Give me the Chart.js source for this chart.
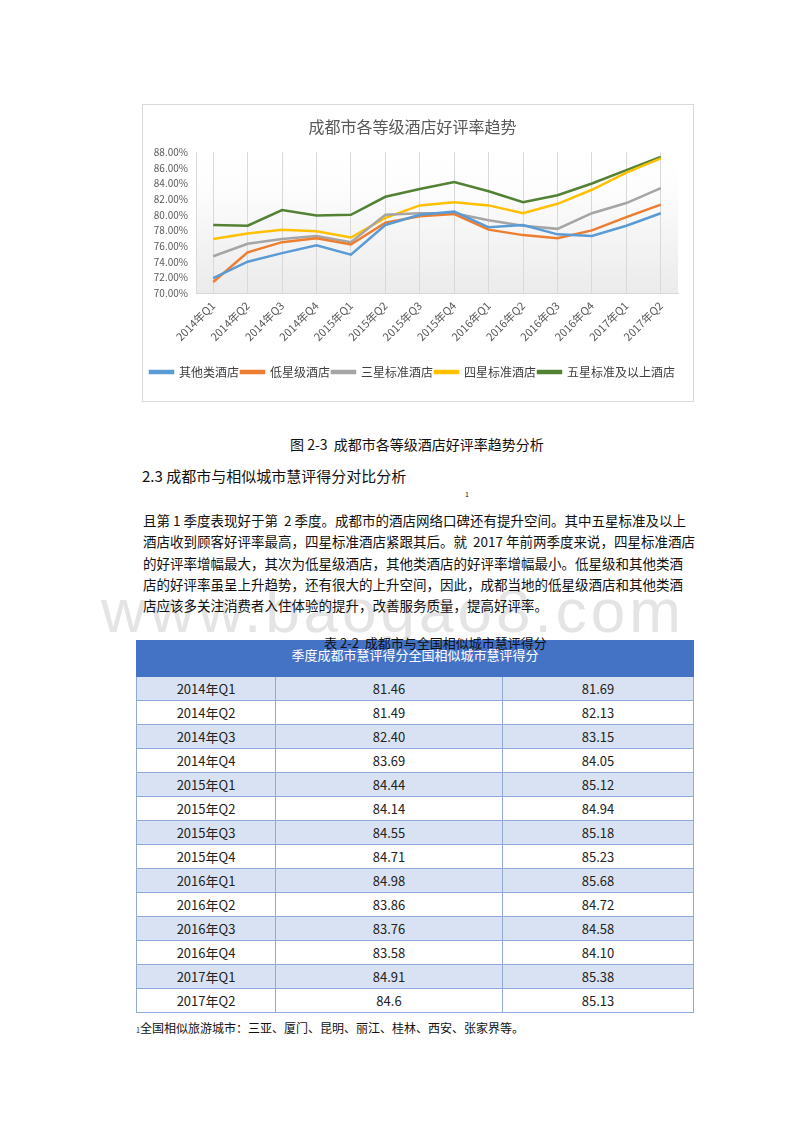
<!DOCTYPE html>
<html>
<head>
<meta charset="utf-8">
<script src="https://cdn.jsdelivr.net/npm/chart.js@4/dist/chart.umd.min.js"></script>
<style>
  body { margin: 0; width: 800px; height: 1130px; background: #fff; position: relative;
         font-family: "Noto Sans CJK SC", "Noto Sans", sans-serif; color: #111; overflow: hidden; }
  .abs { position: absolute; white-space: nowrap; }
  #chartBox { position: absolute; left: 142px; top: 104px; width: 550px; height: 296px; border: 1px solid #d9d9d9; }
  #watermark { position: absolute; left: 101px; top: 580px; font-family: "Liberation Sans", sans-serif;
               font-size: 62px; line-height: 1; color: #e4e4e4; letter-spacing: 4px; }
  .para { font-size: 13.5px; line-height: 21.3px; }
  table { position: absolute; left: 136px; top: 640px; width: 558px; border-collapse: collapse; font-size: 13px; }
  td { border: 1px solid #8eaadb; height: 23px; padding: 0; text-align: center; color: #222; }
  tr.odd td { background: #d9e2f3; }
  th { background: #4472c4; height: 31px; color: #fff; font-weight: normal; font-size: 13px; vertical-align: top;
       padding: 4px 0 0 0; border: 1px solid #4472c4; }
</style>
</head>
<body>
<div id="chartBox"><canvas id="rateChart" width="550" height="296"></canvas></div>

<div class="abs" style="left:290px; top:434px; font-size:14px;">图 2-3&nbsp; 成都市各等级酒店好评率趋势分析</div>
<div class="abs" style="left:142px; top:465px; font-size:15px;">2.3 成都市与相似城市慧评得分对比分析</div>
<div class="abs" style="left:465px; top:489px; font-size:7px;">1</div>

<div id="watermark">www.baogao8.com</div>
<div class="abs para" style="left:143px; top:510px;">
  <div>且第 1 季度表现好于第&nbsp; 2 季度。成都市的酒店网络口碑还有提升空间。其中五星标准及以上</div>
  <div>酒店收到顾客好评率最高，四星标准酒店紧跟其后。就&nbsp; 2017 年前两季度来说，四星标准酒店</div>
  <div>的好评率增幅最大，其次为低星级酒店，其他类酒店的好评率增幅最小。低星级和其他类酒</div>
  <div>店的好评率虽呈上升趋势，还有很大的上升空间，因此，成都当地的低星级酒店和其他类酒</div>
  <div>店应该多关注消费者入住体验的提升，改善服务质量，提高好评率。</div>
</div>

<table id="scoreTable"></table>
<div class="abs" style="left:324px; top:633px; font-size:13px; color:#111;">表 2-2&nbsp; 成都市与全国相似城市慧评得分</div>

<div class="abs" style="left:136px; top:1019px; font-size:12px;"><span style="font-size:7px;">1</span>全国相似旅游城市：三亚、厦门、昆明、丽江、桂林、西安、张家界等。</div>

<script>
const quarters = ['2014年Q1','2014年Q2','2014年Q3','2014年Q4','2015年Q1','2015年Q2','2015年Q3',
                  '2015年Q4','2016年Q1','2016年Q2','2016年Q3','2016年Q4','2017年Q1','2017年Q2'];

// 好评率 (%)
const otherHotels   = [71.9, 74.0, 75.1, 76.1, 74.9, 78.7, 80.0, 80.4, 78.4, 78.7, 77.5, 77.3, 78.6, 80.2];
const lowStar       = [71.4, 75.2, 76.5, 77.0, 76.2, 79.0, 79.8, 80.1, 78.1, 77.4, 77.0, 78.0, 79.7, 81.3];
const threeStar     = [74.7, 76.3, 76.9, 77.3, 76.5, 80.0, 80.2, 80.2, 79.3, 78.6, 78.2, 80.2, 81.5, 83.4];
const fourStar      = [76.9, 77.6, 78.1, 77.9, 77.1, 79.6, 81.2, 81.6, 81.2, 80.2, 81.4, 83.2, 85.4, 87.2];
const fiveStar      = [78.7, 78.6, 80.6, 79.9, 80.0, 82.3, 83.3, 84.2, 83.0, 81.6, 82.5, 84.0, 85.7, 87.4];

// 慧评得分
const chengduScores  = ['81.46','81.49','82.40','83.69','84.44','84.14','84.55','84.71','84.98','83.86','83.76','83.58','84.91','84.6'];
const nationalScores = ['81.69','82.13','83.15','84.05','85.12','84.94','85.18','85.23','85.68','84.72','84.58','84.10','85.38','85.13'];

const seriesNames  = ['其他类酒店', '低星级酒店', '三星标准酒店', '四星标准酒店', '五星标准及以上酒店'];
const seriesColors = ['#5b9bd5', '#ed7d31', '#a5a5a5', '#ffc000', '#548235'];
const seriesData   = [otherHotels, lowStar, threeStar, fourStar, fiveStar];

// table
const table = document.getElementById('scoreTable');
let html = '<tr><th colspan="3">季度成都市慧评得分全国相似城市慧评得分</th></tr>';
quarters.forEach((q, i) => {
    html += '<tr class="' + (i % 2 === 0 ? 'odd' : '') + '"><td style="width:138px">' + q +
            '</td><td style="width:226px">' + chengduScores[i] + '</td><td>' + nationalScores[i] + '</td></tr>';
});
table.innerHTML = html;

// plot area gradient like Excel
const plotBackground = {
    id: 'plotBackground',
    beforeDraw(chart) {
        const {ctx, chartArea: a} = chart;
        const g = ctx.createLinearGradient(0, a.top, 0, a.bottom);
        g.addColorStop(0, '#ffffff');
        g.addColorStop(0.25, '#fdfdfd');
        g.addColorStop(1, '#ebebeb');
        ctx.save();
        ctx.fillStyle = g;
        ctx.fillRect(a.left, a.top, a.right - a.left, a.bottom - a.top);
        ctx.restore();
    }
};

const font = '"Noto Sans CJK SC", "Noto Sans", sans-serif';
new Chart(document.getElementById('rateChart').getContext('2d'), {
    type: 'line',
    data: {
        labels: quarters,
        datasets: seriesData.map((d, i) => ({
            label: seriesNames[i],
            data: d,
            borderColor: seriesColors[i],
            backgroundColor: seriesColors[i],
            borderWidth: 2.5,
            pointRadius: 0,
            tension: 0,
            fill: false
        }))
    },
    options: {
        responsive: false,
        animation: false,
        layout: { padding: { left: 4, right: 15, top: 4, bottom: 13 } },
        plugins: {
            title: {
                display: true,
                text: '成都市各等级酒店好评率趋势',
                color: '#595959',
                font: { family: font, size: 16, weight: 'normal' },
                padding: { top: 8, bottom: 16 }
            },
            legend: {
                position: 'bottom',
                labels: {
                    color: '#404040',
                    font: { family: font, size: 12 },
                    boxWidth: 23,
                    boxHeight: 2,
                    padding: 2
                }
            },
            tooltip: { enabled: false }
        },
        scales: {
            x: {
                offset: true,
                grid: { color: '#d9d9d9', offset: false, drawTicks: false },
                border: { color: '#d9d9d9' },
                ticks: { color: '#595959', font: { family: font, size: 11 }, minRotation: 45, maxRotation: 45, padding: 6 },
                afterFit: s => { s.height = 71; }
            },
            y: {
                min: 70,
                max: 88,
                grid: { display: false, drawTicks: false },
                border: { color: '#d9d9d9' },
                ticks: {
                    stepSize: 2,
                    autoSkip: false,
                    color: '#595959',
                    font: { family: font, size: 10 },
                    padding: 8,
                    callback: v => v.toFixed(2) + '%'
                },
                afterFit: s => { s.width = 49; }
            }
        }
    },
    plugins: [plotBackground]
});
</script>
</body>
</html>
